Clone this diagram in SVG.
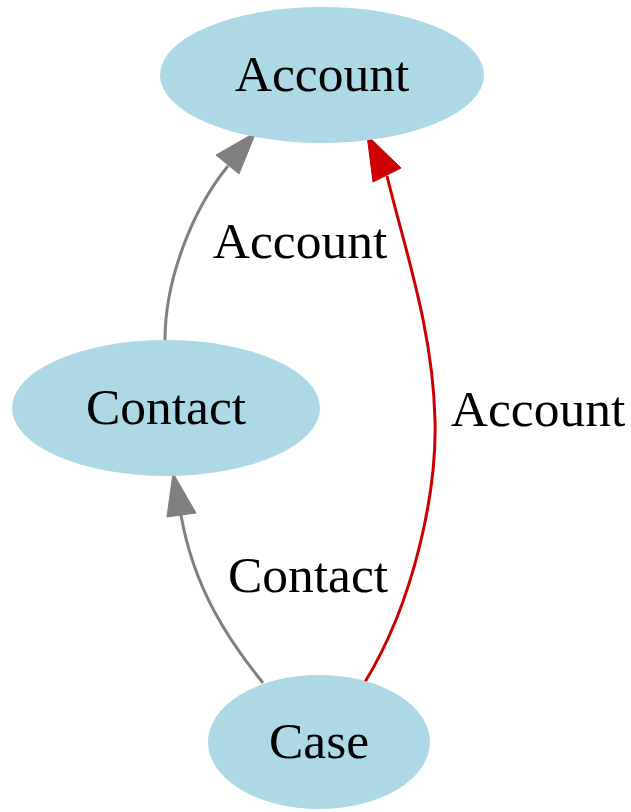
<svg xmlns="http://www.w3.org/2000/svg" width="631" height="812" viewBox="0 0 631 812">
<style>
.node ellipse{fill:#add8e6;stroke:none}
text{font-family:"Liberation Serif","Times New Roman",serif;font-size:51.5px;fill:#000;text-anchor:middle}
.g{stroke:#808080;fill:none;stroke-width:3}
.ga{fill:#808080;stroke:#808080;stroke-width:1}
.r{stroke:#cc0000;fill:none;stroke-width:3}
.ra{fill:#cc0000;stroke:#cc0000;stroke-width:1}
</style>
<rect width="631" height="812" fill="#fff"/>
<g id="connectors">
<g id="e-contact-account">
<path class="g" d="M165,340 C165,280 192,210 228,166"/>
<polygon class="ga" points="256,132 216,155 239,174"/>
<text x="300" y="258">Account</text>
</g>
<g id="e-case-contact">
<path class="g" d="M263,683 C230,642 194,590 181,515"/>
<polygon class="ga" points="173,473 167,517 196,513"/>
<text x="308" y="592">Contact</text>
</g>
<g id="e-case-account">
<path class="r" d="M365,682 C415,600 437,490 435,420 C433,330 405,250 387,176"/>
<polygon class="ra" points="367,135 373,182 401,168"/>
<text x="538" y="426">Account</text>
</g>
</g>
<g id="n-account" class="node"><ellipse cx="322" cy="75" rx="162" ry="68"/><text x="322" y="91">Account</text></g>
<g id="n-contact" class="node"><ellipse cx="166" cy="408" rx="154" ry="68"/><text x="166" y="424">Contact</text></g>
<g id="n-case" class="node"><ellipse cx="319" cy="742" rx="111" ry="67"/><text x="319" y="758">Case</text></g>
</svg>
